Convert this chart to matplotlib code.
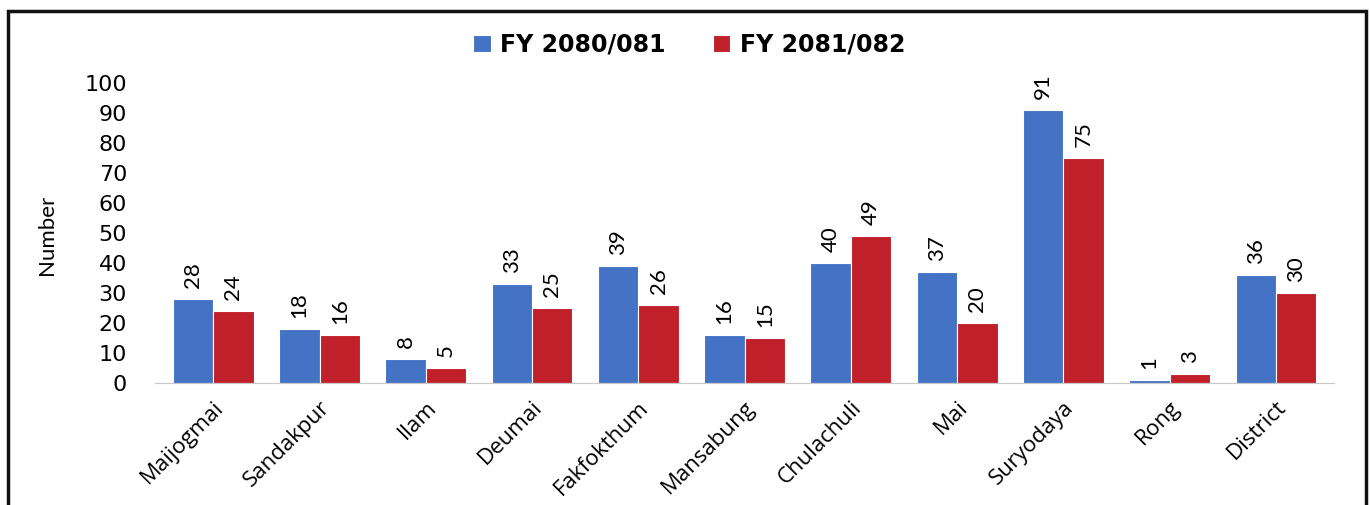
import numpy as np
import matplotlib.pyplot as plt
from matplotlib.patches import Rectangle

categories = ['Maijogmai', 'Sandakpur', 'Ilam', 'Deumai', 'Fakfokthum', 'Mansabung',
              'Chulachuli', 'Mai', 'Suryodaya', 'Rong', 'District']
fy_2080 = [28, 18, 8, 33, 39, 16, 40, 37, 91, 1, 36]
fy_2081 = [24, 16, 5, 25, 26, 15, 49, 20, 75, 3, 30]
series_names = ['FY 2080/081', 'FY 2081/082']

blue = '#4472C4'
red = '#C0202A'

fig = plt.figure(figsize=(13.7, 5.05), dpi=100)
ax = fig.add_axes([0.113, 0.2416, 0.861, 0.594])

x = np.arange(len(categories))
w = 0.38
b1 = ax.bar(x - w / 2, fy_2080, w, color=blue, edgecolor='white', linewidth=0.8, label=series_names[0])
b2 = ax.bar(x + w / 2, fy_2081, w, color=red, edgecolor='white', linewidth=0.8, label=series_names[1])

for bars in (b1, b2):
    ax.bar_label(bars, padding=8, rotation=90, fontsize=16, family='Lato', clip_on=False)

ax.set_xlim(-0.55, len(categories) - 0.45)
ax.set_ylim(0, 100)
ax.set_yticks(range(0, 101, 10))
ax.set_xticks(x)
ax.set_xticklabels(categories, rotation=45, ha='right', rotation_mode='anchor',
                   fontsize=16, family='Open Sans')
ax.tick_params(axis='y', labelsize=16, length=0, pad=20)
ax.tick_params(axis='x', length=0, pad=10)
for lab in ax.get_yticklabels():
    lab.set_family('DejaVu Sans')

for s in ('top', 'right', 'left'):
    ax.spines[s].set_visible(False)
ax.spines['bottom'].set_color('#C8C8C8')

fig.text(0.034, 0.535, 'Number', rotation=90, ha='center', va='center', fontsize=16, family='Lato')

leg = fig.legend(loc='center', bbox_to_anchor=(0.503, 0.911), ncol=2, frameon=False,
                 prop={'family': 'DejaVu Sans', 'weight': 'bold', 'size': 17},
                 handlelength=0.75, handleheight=0.75, columnspacing=2.0, handletextpad=0.4)

fig.patches.append(Rectangle((0.0055, -0.1), 0.9917, 1.078, transform=fig.transFigure,
                             fill=False, edgecolor='#111111', linewidth=2.5))

fig.savefig('out.png', dpi=100)
